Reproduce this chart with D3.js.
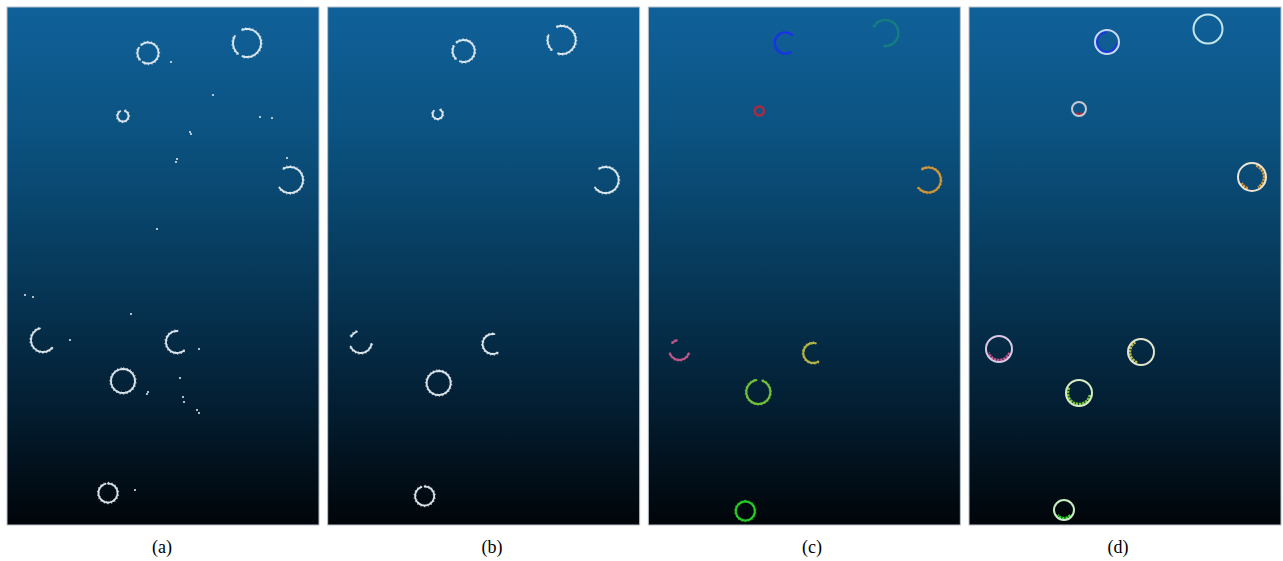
<!DOCTYPE html>
<html>
<head>
<meta charset="utf-8">
<script src="https://cdn.jsdelivr.net/npm/d3@7"></script>
<style>
  html, body { margin: 0; padding: 0; background: #ffffff; }
  svg { display: block; }
</style>
</head>
<body>
<svg id="fig" width="1283" height="561"></svg>
<script>
// Sub-figure captions
const panelLabels = ["(a)", "(b)", "(c)", "(d)"];

// Scene extent (local scene units, same for every panel)
const sceneWidth = 312;
const sceneHeight = 518;

// (a) raw point cloud: ring-shaped returns, angles in degrees (0 = up, clockwise)
const rawRings = [
  { cx: 141, cy: 46,  r: 10.5, arcs: [[-40, 210], [230, 300]] },
  { cx: 240, cy: 36,  r: 14,   arcs: [[-20, 200], [220, 300]] },
  { cx: 116, cy: 109, r: 5.5,  arcs: [[20, 330]] },
  { cx: 283, cy: 173, r: 13,   arcs: [[-30, 235]] },
  { cx: 36,  cy: 333, r: 12,   arcs: [[130, 345]] },
  { cx: 170, cy: 335, r: 11,   arcs: [[140, 365]] },
  { cx: 116, cy: 374, r: 12,   arcs: [[0, 360]] },
  { cx: 101, cy: 486, r: 9.5,  arcs: [[0, 345]] }
];
// (a) isolated noise points
const rawNoise = [
  [164, 55], [206, 88], [253, 110], [265, 111], [183, 125], [184, 127],
  [170, 152], [169, 155], [280, 151], [150, 222], [18, 288], [26, 290],
  [124, 307], [63, 333], [192, 342], [141, 385], [140, 387], [173, 371],
  [176, 390], [177, 395], [190, 403], [192, 406], [128, 483]
];

// (b) point cloud after noise removal
const filteredRings = [
  { cx: 136, cy: 44,  r: 11,  arcs: [[-40, 200], [225, 300]] },
  { cx: 234, cy: 33,  r: 14,  arcs: [[-20, 195], [225, 290]] },
  { cx: 110, cy: 107, r: 5,   arcs: [[30, 310]] },
  { cx: 278, cy: 173, r: 13,  arcs: [[-30, 235]] },
  { cx: 33,  cy: 335, r: 11,  arcs: [[100, 250], [300, 340]] },
  { cx: 165, cy: 337, r: 10,  arcs: [[150, 370]] },
  { cx: 111, cy: 376, r: 12,  arcs: [[0, 360]] },
  { cx: 97,  cy: 489, r: 9.5, arcs: [[0, 340]] }
];

// (c) clustered rings, one class per ring
const clusterColors = ["#1a30ec", "#17807e", "#b8283c", "#dc9a36",
                       "#c8578e", "#bcbc46", "#78c83a", "#28d428"];
const clusteredRings = [
  { cx: 137, cy: 36,  r: 10.5, arcs: [[150, 400]], cls: 0 },
  { cx: 237, cy: 26,  r: 13,   arcs: [[-60, 185]], cls: 1 },
  { cx: 111, cy: 104, r: 4.5,  arcs: [[0, 360]],   cls: 2 },
  { cx: 280, cy: 173, r: 12.5, arcs: [[-30, 235]], cls: 3 },
  { cx: 31,  cy: 343, r: 10,   arcs: [[110, 250], [315, 345]], cls: 4 },
  { cx: 165, cy: 346, r: 10,   arcs: [[150, 375]], cls: 5 },
  { cx: 110, cy: 385, r: 12,   arcs: [[20, 350]],  cls: 6 },
  { cx: 97,  cy: 504, r: 9.5,  arcs: [[0, 360]],   cls: 7 }
];

// (d) fitted circles with the clustered points they were fitted to
const fittedCircles = [
  { cx: 138, cy: 35,  r: 12,   arcs: [[100, 360]], cls: 0 },
  { cx: 239, cy: 22,  r: 14.5, arcs: [],           cls: 1 },
  { cx: 110, cy: 102, r: 7,    arcs: [[140, 220]], cls: 2 },
  { cx: 283, cy: 170, r: 14,   arcs: [[20, 150], [200, 240]], cls: 3 },
  { cx: 30,  cy: 342, r: 13,   arcs: [[110, 250]], cls: 4 },
  { cx: 172, cy: 345, r: 13,   arcs: [[200, 330]], cls: 5 },
  { cx: 110, cy: 386, r: 13,   arcs: [[100, 300]], cls: 6 },
  { cx: 95,  cy: 503, r: 10,   arcs: [[130, 230]], cls: 7 }
];
const fittedStroke = ["#c9d8f2", "#c4e6ea", "#c8c8d0", "#ece4d4",
                      "#d9c9e3", "#e2e4cc", "#d8ecc4", "#c8ecc0"];

const svg = d3.select("#fig");
const panelTop = 7, panelH = 518;

const band = d3.scaleBand()
  .domain(panelLabels)
  .range([7, 1281])
  .paddingInner(0.027);
const bw = band.bandwidth();

const x = d3.scaleLinear().domain([0, sceneWidth]).range([0, bw]);
const y = d3.scaleLinear().domain([0, sceneHeight]).range([0, panelH]);
const rs = d3.scaleLinear().domain([0, sceneWidth]).range([0, bw]);

// background gradient
const defs = svg.append("defs");
const grad = defs.append("linearGradient")
  .attr("id", "bg").attr("x1", 0).attr("y1", 0).attr("x2", 0).attr("y2", 1);
[[0, "#10619a"], [0.25, "#0b5280"], [0.5, "#073a5c"], [0.75, "#032035"], [1, "#010509"]]
  .forEach(([o, c]) => grad.append("stop").attr("offset", o).attr("stop-color", c));

panelLabels.forEach((lbl, i) => {
  defs.append("clipPath").attr("id", "clip" + i)
    .append("rect").attr("x", 0).attr("y", 0).attr("width", bw).attr("height", panelH);
});

const rad = d => (d - 90) * Math.PI / 180;
function arcPath(c, a, rr) {
  const p = d3.path();
  const cx = x(c.cx), cy = y(c.cy), r = rs(rr);
  p.moveTo(cx + r * Math.cos(rad(a[0])), cy + r * Math.sin(rad(a[0])));
  p.arc(cx, cy, r, rad(a[0]), rad(a[1]));
  return p.toString();
}

const panels = svg.selectAll("g.panel")
  .data(panelLabels)
  .join("g")
  .attr("class", "panel")
  .attr("transform", d => `translate(${band(d)},${panelTop})`);

panels.append("rect")
  .attr("width", bw).attr("height", panelH)
  .attr("fill", "url(#bg)")
  .attr("stroke", "#b9c2ca").attr("stroke-width", 1);

const content = panels.append("g").attr("clip-path", (d, i) => `url(#clip${i})`);

// point-cloud rings drawn as speckled arcs
function drawRings(g, rings, colorOf, w) {
  rings.forEach(c => {
    c.arcs.forEach(a => {
      g.append("path").attr("d", arcPath(c, a, c.r))
        .attr("fill", "none").attr("stroke", colorOf(c))
        .attr("stroke-width", w).attr("stroke-dasharray", "2.6 1")
        .attr("stroke-linecap", "round").attr("opacity", 0.95);
      g.append("path").attr("d", arcPath(c, a, c.r + 1.1))
        .attr("fill", "none").attr("stroke", colorOf(c))
        .attr("stroke-width", 1.2).attr("stroke-dasharray", "1.2 2.4")
        .attr("opacity", 0.75);
      g.append("path").attr("d", arcPath(c, a, c.r - 1.1))
        .attr("fill", "none").attr("stroke", colorOf(c))
        .attr("stroke-width", 1).attr("stroke-dasharray", "0.8 3.1")
        .attr("opacity", 0.6);
    });
  });
}

const gA = content.filter(d => d === "(a)");
drawRings(gA, rawRings, () => "#e6eef3", 1.9);
gA.selectAll("circle.noise").data(rawNoise).join("circle")
  .attr("class", "noise")
  .attr("cx", d => x(d[0])).attr("cy", d => y(d[1])).attr("r", 1.1)
  .attr("fill", "#d8e3ea");

const gB = content.filter(d => d === "(b)");
drawRings(gB, filteredRings, () => "#e6eef3", 1.9);

const gC = content.filter(d => d === "(c)");
drawRings(gC, clusteredRings, c => clusterColors[c.cls], 2.2);

const gD = content.filter(d => d === "(d)");
fittedCircles.forEach(c => {
  c.arcs.forEach(a => {
    gD.append("path").attr("d", arcPath(c, a, c.r - 1.7))
      .attr("fill", "none").attr("stroke", clusterColors[c.cls])
      .attr("stroke-width", 3).attr("stroke-dasharray", "2.5 0.8");
  });
});
gD.selectAll("circle.fit").data(fittedCircles).join("circle")
  .attr("class", "fit")
  .attr("cx", d => x(d.cx)).attr("cy", d => y(d.cy)).attr("r", d => rs(d.r))
  .attr("fill", "none")
  .attr("stroke", d => fittedStroke[d.cls])
  .attr("stroke-width", 2);

// captions
const captionX = { "(a)": 162, "(b)": 492, "(c)": 812, "(d)": 1118 };
svg.selectAll("text.caption").data(panelLabels).join("text")
  .attr("class", "caption")
  .attr("x", d => captionX[d]).attr("y", 553)
  .attr("text-anchor", "middle")
  .attr("font-family", "'Liberation Serif', 'Times New Roman', serif")
  .attr("font-size", 18).attr("fill", "#000")
  .text(d => d);
</script>
</body>
</html>
